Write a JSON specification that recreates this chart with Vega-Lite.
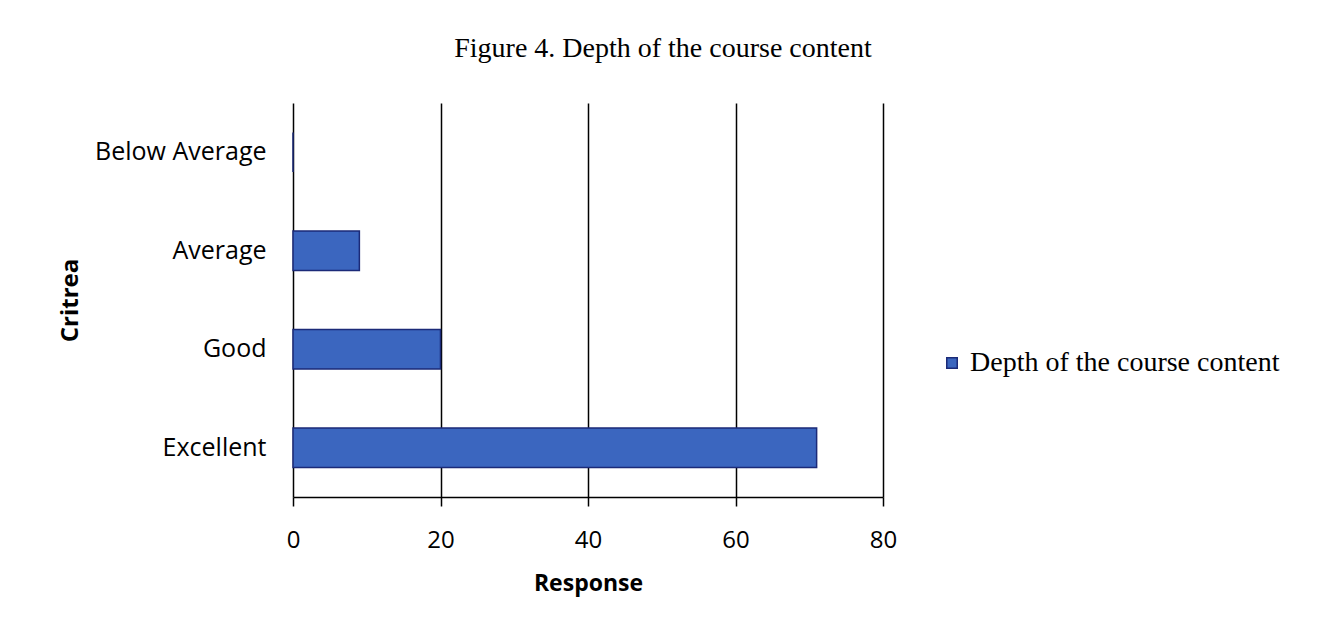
{
  "$schema": "https://vega.github.io/schema/vega-lite/v6.json",
  "autosize": "none",
  "width": 590,
  "height": 394,
  "padding": {"left": 293, "top": 103, "right": 443, "bottom": 142},
  "background": "white",
  "config": {
    "view": {"stroke": null},
    "font": "Liberation Sans"
  },
  "title": {
    "text": "Figure 4. Depth of the course content",
    "font": "Liberation Serif",
    "fontSize": 28,
    "fontWeight": "normal",
    "color": "black",
    "anchor": "middle",
    "dx": 75,
    "offset": 40
  },
  "data": {
    "values": [
      {"criteria": "Below Average", "response": 0, "series": "Depth of the course content"},
      {"criteria": "Average", "response": 9, "series": "Depth of the course content"},
      {"criteria": "Good", "response": 20, "series": "Depth of the course content"},
      {"criteria": "Excellent", "response": 71, "series": "Depth of the course content"}
    ]
  },
  "mark": {"type": "bar", "stroke": "#1b2a78", "strokeWidth": 1.5},
  "encoding": {
    "y": {
      "field": "criteria",
      "type": "nominal",
      "sort": ["Below Average", "Average", "Good", "Excellent"],
      "scale": {"paddingInner": 0.6, "paddingOuter": 0.3},
      "axis": {
        "title": "Critrea",
        "titleFont": "Open Sans",
        "titleFontSize": 24,
        "titleFontWeight": "bold",
        "titleColor": "black",
        "titlePadding": 12,
        "labelFont": "Open Sans",
        "labelFontSize": 25,
        "labelColor": "black",
        "labelPadding": 27,
        "ticks": false,
        "domain": false,
        "grid": false
      }
    },
    "x": {
      "field": "response",
      "type": "quantitative",
      "scale": {"domain": [0, 80]},
      "axis": {
        "values": [0, 20, 40, 60, 80],
        "title": "Response",
        "titleFont": "Open Sans",
        "titleFontSize": 23,
        "titleFontWeight": "bold",
        "titleColor": "black",
        "titlePadding": 20,
        "labelFont": "Open Sans",
        "labelFontSize": 24,
        "labelColor": "black",
        "labelPadding": 22,
        "labelFlush": false,
        "tickSize": 9,
        "tickColor": "black",
        "tickWidth": 1.5,
        "domainColor": "black",
        "domainWidth": 1.5,
        "grid": true,
        "gridColor": "black",
        "gridWidth": 1.5,
        "gridOpacity": 1
      }
    },
    "color": {
      "field": "series",
      "type": "nominal",
      "scale": {"range": ["#3b66bf"]},
      "legend": {
        "title": null,
        "orient": "none",
        "legendX": 645,
        "legendY": 246,
        "symbolType": "square",
        "symbolSize": 110,
        "symbolStrokeColor": "#1b2a78",
        "symbolStrokeWidth": 1.5,
        "labelFont": "Liberation Serif",
        "labelFontSize": 28,
        "labelColor": "black",
        "labelOffset": 4,
        "labelLimit": 500
      }
    }
  }
}
